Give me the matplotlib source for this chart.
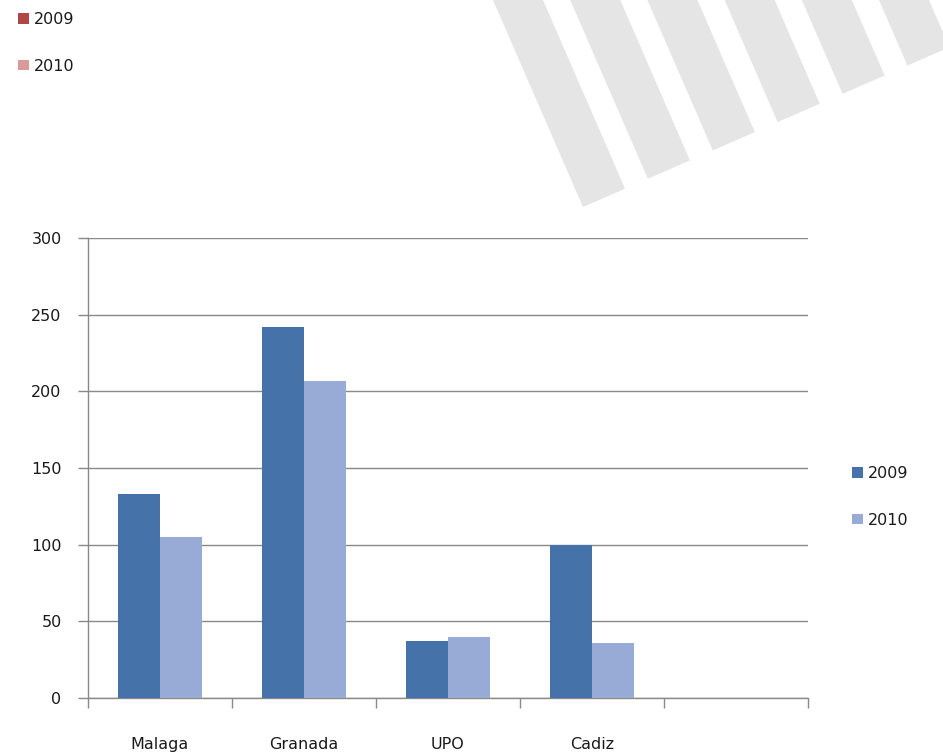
import numpy as np
import matplotlib.pyplot as plt
from matplotlib.patches import Patch, Polygon

plt.rcParams["font.family"] = ["DejaVu Sans"]

# chart data
categories = ["Malaga", "Granada", "UPO", "Cadiz", ""]
values_2009 = [133, 242, 37, 100, 0]
values_2010 = [105, 207, 39.5, 36, 0]
series_labels = ["2009", "2010"]
y_ticks = [0, 50, 100, 150, 200, 250, 300]

BLUE_DARK = "#4672aa"
BLUE_LIGHT = "#97abd6"
RED_DARK = "#b24644"
RED_LIGHT = "#da9a98"
GRID = "#898989"
STRIPE = "#e5e5e5"
TEXT = "#1a1a1a"
FS = 11.5

W, H = 943, 753
fig = plt.figure(figsize=(W / 100, H / 100), dpi=100)

# decorative diagonal stripes in the top right corner (pixel space)
bg = fig.add_axes([0, 0, 1, 1], zorder=0)
bg.set_xlim(0, W)
bg.set_ylim(H, 0)
bg.axis("off")
lean = 90 / 207          # stripe x shift per pixel down
slope = -0.436           # slope of the line the stripe ends sit on
for i in range(6):
    x0 = 493 + 77.2 * i
    ends = []
    for xl in (x0, x0 + 50):
        yb = (207 + slope * (xl - 583)) / (1 - slope * lean)
        ends.append((xl + lean * yb, yb))
    poly = [(x0, 0), (x0 + 50, 0), ends[1], ends[0]]
    bg.add_patch(Polygon(poly, closed=True, facecolor=STRIPE, edgecolor="none"))

# main plot area
left, right, top, bottom = 88, 808, 238, 698
ax = fig.add_axes([left / W, 1 - bottom / H, (right - left) / W, (bottom - top) / H], zorder=1)
ax.patch.set_alpha(0)

x = np.arange(len(categories))
bw = 42 / 144
ax.bar(x - bw / 2, values_2009, width=bw, color=BLUE_DARK, label=series_labels[0], zorder=3)
ax.bar(x + bw / 2, values_2010, width=bw, color=BLUE_LIGHT, label=series_labels[1], zorder=3)

ax.set_xlim(-0.5, len(categories) - 0.5)
ax.set_ylim(0, 300)
ax.set_yticks(y_ticks)
ax.set_yticklabels([str(v) for v in y_ticks], fontsize=FS, color=TEXT)
ax.yaxis.grid(True, color=GRID, linewidth=1.0, zorder=0)
ax.set_axisbelow(True)

ax.set_xticks(x)
ax.set_xticklabels(categories, fontsize=FS, color=TEXT)
ax.set_xticks(np.arange(len(categories) + 1) - 0.5, minor=True)
ax.tick_params(axis="x", which="major", length=0, pad=28)
ax.tick_params(axis="x", which="minor", length=7, width=1, color=GRID, direction="out")
ax.tick_params(axis="y", length=7, width=1, color=GRID, pad=12)

for side in ("top", "right"):
    ax.spines[side].set_visible(False)
for side in ("left", "bottom"):
    ax.spines[side].set_color(GRID)
    ax.spines[side].set_linewidth(1.0)

# legend at the right of the plot
ax.legend(loc="center left", bbox_to_anchor=(838 / W, 1 - 497 / H),
          bbox_transform=fig.transFigure, frameon=False, fontsize=FS,
          handlelength=0.65, handleheight=0.65, handletextpad=0.3, labelspacing=1.95,
          labelcolor=TEXT)

# leftover legend at the top left (red swatches)
red_handles = [Patch(facecolor=RED_DARK, label=series_labels[0]),
               Patch(facecolor=RED_LIGHT, label=series_labels[1])]
fig.legend(handles=red_handles, loc="center left", bbox_to_anchor=(4 / W, 1 - 43 / H),
           frameon=False, fontsize=FS, handlelength=0.65, handleheight=0.65,
           handletextpad=0.3, labelspacing=1.95, labelcolor=TEXT)

fig.savefig("out.png", dpi=100)
